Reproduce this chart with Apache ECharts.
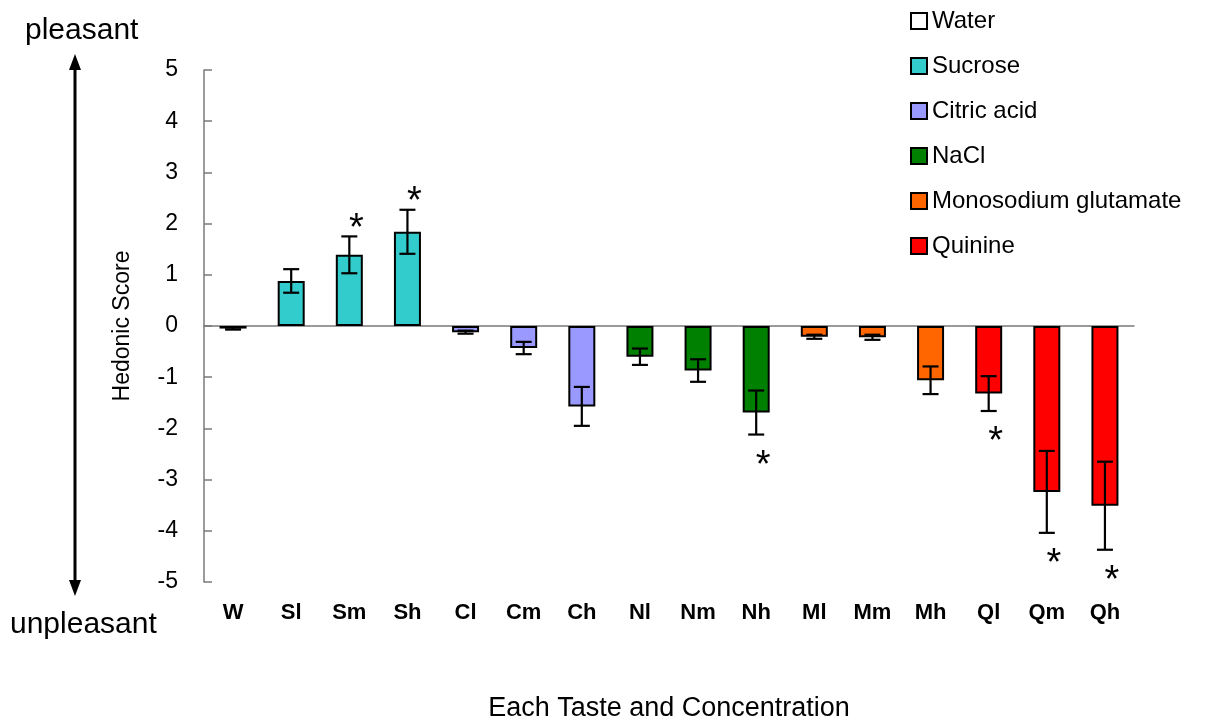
<!DOCTYPE html>
<html>
<head>
<meta charset="utf-8">
<script src="https://cdn.jsdelivr.net/npm/echarts@6/dist/echarts.min.js"></script>
<style>
html,body{margin:0;padding:0;background:#fff;}
#chart{width:1216px;height:722px;}
</style>
</head>
<body>
<div id="chart"></div>
<script>
// ---- data ----
const categories = ['W','Sl','Sm','Sh','Cl','Cm','Ch','Nl','Nm','Nh','Ml','Mm','Mh','Ql','Qm','Qh'];
const groups = ['Water','Sucrose','Citric acid','NaCl','Monosodium glutamate','Quinine'];
const groupColors = ['#FFFFFF','#33CCCC','#9999FF','#008000','#FF6600','#FF0000'];
const groupIndex = [0,1,1,1,2,2,2,3,3,3,4,4,4,5,5,5];
const means  = [-0.05, 0.88, 1.39, 1.84, -0.12, -0.43, -1.57, -0.60, -0.87, -1.69, -0.21, -0.22, -1.06, -1.32, -3.24, -3.51];
const errors = [ 0.02, 0.23, 0.36, 0.43,  0.03,  0.12,  0.38,  0.16,  0.22,  0.43,  0.04,  0.05,  0.27,  0.34,  0.80,  0.86];
const significant = ['Sm','Sh','Nh','Ql','Qm','Qh'];
const yMin = -5, yMax = 5, yStep = 1;

const FONT = "'Liberation Sans', Arial, sans-serif";
const AXIS_COLOR = '#7a7a7a';

const chart = echarts.init(document.getElementById('chart'));

const barSeries = groups.map((g, gi) => ({
  type: 'bar',
  name: g,
  xAxisIndex: 0,
  barWidth: 27,
  barGap: '-100%',
  data: categories.map((c, i) => groupIndex[i] === gi ? means[i] : null),
  itemStyle: { color: groupColors[gi], borderColor: '#000', borderWidth: 2 },
  z: 2
}));

const errorSeries = {
  type: 'custom',
  name: 'error',
  xAxisIndex: 0,
  data: categories.map((c, i) => [i, means[i], errors[i]]),
  encode: { x: 0, y: 1 },
  z: 5,
  silent: true,
  renderItem: function (params, api) {
    const x = api.value(0), m = api.value(1), e = api.value(2);
    const top = api.coord([x, m + e]);
    const bot = api.coord([x, m - e]);
    const hw = 8;
    const st = { stroke: '#000', lineWidth: 2.2 };
    return {
      type: 'group',
      children: [
        { type: 'line', shape: { x1: top[0], y1: top[1], x2: bot[0], y2: bot[1] }, style: st },
        { type: 'line', shape: { x1: top[0] - hw, y1: top[1], x2: top[0] + hw, y2: top[1] }, style: st },
        { type: 'line', shape: { x1: bot[0] - hw, y1: bot[1], x2: bot[0] + hw, y2: bot[1] }, style: st }
      ]
    };
  }
};

const starSeries = {
  type: 'custom',
  name: 'significance',
  xAxisIndex: 0,
  data: significant.map(c => { const i = categories.indexOf(c); return [i, means[i], errors[i]]; }),
  encode: { x: 0, y: 1 },
  z: 6,
  silent: true,
  renderItem: function (params, api) {
    const x = api.value(0), m = api.value(1), e = api.value(2);
    const pos = m >= 0;
    const p = api.coord([x, pos ? m + e : m - e]);
    return {
      type: 'text',
      x: p[0] + 7,
      y: p[1] + (pos ? -26 : 13),
      style: { text: '*', fontSize: 38, fontFamily: FONT, fill: '#000', align: 'center', verticalAlign: 'top' }
    };
  }
};

const option = {
  animation: false,
  backgroundColor: '#ffffff',
  grid: { left: 204, right: 82, top: 70, bottom: 140, outerBoundsMode: 'none', containLabel: false },
  legend: {
    orient: 'vertical',
    left: 905,
    top: 4,
    data: groups,
    icon: 'rect',
    itemWidth: 16,
    itemHeight: 16,
    itemGap: 21,
    textStyle: { fontSize: 24, color: '#000', fontFamily: FONT },
    selectedMode: false
  },
  xAxis: [
    {
      type: 'category',
      data: categories,
      position: 'bottom',
      axisLine: { onZero: true, lineStyle: { color: AXIS_COLOR, width: 1.5 } },
      axisTick: { inside: true, length: 7, lineStyle: { color: AXIS_COLOR, width: 1.5 } },
      axisLabel: { show: false },
      splitLine: { show: false }
    },
    {
      type: 'category',
      data: categories,
      position: 'bottom',
      axisLine: { show: false, onZero: false },
      axisTick: { show: false },
      axisLabel: { interval: 0, margin: 20, fontSize: 22, fontWeight: 'bold', color: '#000', fontFamily: FONT },
      name: 'Each Taste and Concentration',
      nameLocation: 'middle',
      nameGap: 113,
      nameTextStyle: { fontSize: 27, color: '#000', fontFamily: FONT }
    }
  ],
  yAxis: {
    type: 'value',
    min: yMin,
    max: yMax,
    interval: yStep,
    axisLine: { show: true, onZero: false, lineStyle: { color: AXIS_COLOR, width: 1.5 } },
    axisTick: { show: true, inside: true, length: 8, lineStyle: { color: AXIS_COLOR, width: 1.5 } },
    splitLine: { show: false },
    axisLabel: { fontSize: 23, color: '#000', margin: 26, fontFamily: FONT },
    name: 'Hedonic Score',
    nameLocation: 'middle',
    nameGap: 70,
    nameTextStyle: { fontSize: 23, color: '#000', fontFamily: FONT }
  },
  graphic: [
    { type: 'text', left: 25, top: 16, style: { text: 'pleasant', fontSize: 30, fill: '#000', fontFamily: FONT } },
    { type: 'text', left: 10, top: 610, style: { text: 'unpleasant', fontSize: 30, fill: '#000', fontFamily: FONT } },
    { type: 'line', shape: { x1: 75, y1: 66, x2: 75, y2: 584 }, style: { stroke: '#000', lineWidth: 3 } },
    { type: 'polygon', shape: { points: [[75, 54], [69, 70], [81, 70]] }, style: { fill: '#000' } },
    { type: 'polygon', shape: { points: [[75, 596], [69, 580], [81, 580]] }, style: { fill: '#000' } }
  ],
  series: barSeries.concat([errorSeries, starSeries])
};

chart.setOption(option);
</script>
</body>
</html>
